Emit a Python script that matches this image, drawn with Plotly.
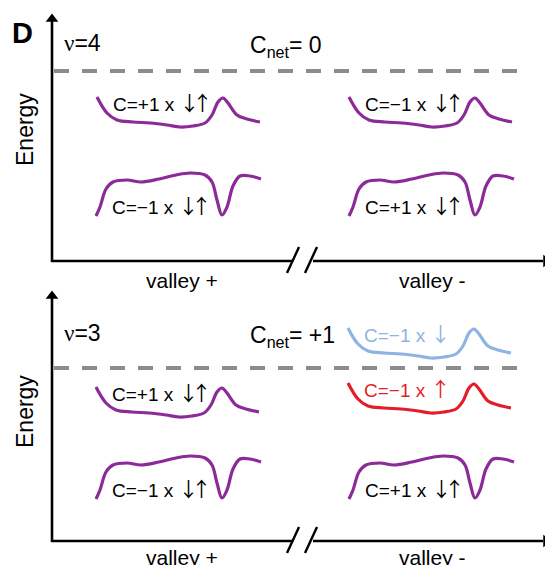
import plotly.graph_objects as go

# ---- schematic band dispersions (k offset, energy offset; screen units, down = +) ----
K_PEAK = [0, 10, 20, 36, 53, 70, 83, 96, 108, 115, 121, 126, 131, 140, 150, 163]
E_PEAK = [0, 16, 23, 25, 26, 28, 30, 29, 26, 18, 5, 1, 6, 18, 22, 25]
K_DIP = [0, 4, 10, 17, 31, 45, 63, 80, 94, 109, 116, 121, 126, 131, 137, 144, 154, 165]
E_DIP = [0, -9, -27, -34, -36, -34, -37, -41, -43, -41, -34, -16, -1, -9, -30, -40, -40, -37]

# ---- bands: kind, label, colour key ----
BAND_KIND = ["peak", "peak", "dip", "dip", "peak", "peak", "peak", "dip", "dip"]
BAND_CHERN = ["C=+1 x ", "C=−1 x ", "C=−1 x ", "C=+1 x ",
              "C=+1 x ", "C=−1 x ", "C=−1 x ", "C=−1 x ", "C=+1 x "]
BAND_SPIN = ["↓↑", "↓↑", "↓↑", "↓↑", "↓↑", "↓", "↑", "↓↑", "↓↑"]
BAND_COLOR = ["purple", "purple", "purple", "purple",
              "purple", "blue", "red", "purple", "purple"]
BAND_K0 = [97, 349, 96, 349, 96, 348, 348, 96, 349]
BAND_E0 = [97, 97, 216, 216, 387, 328, 383, 499, 499]

PANEL_NU = ["=4", "=3"]
PANEL_CNET = ["0", "+1"]
VALLEYS = ["valley +", "valley -"]

COLORS = {"purple": "#8B2A98", "blue": "#8DB4E2", "red": "#E31E2A"}
FONT = "Liberation Sans, Arial, sans-serif"
ARROW_SPAN = ("<span style='font-family:Noto Sans CJK JP;font-size:20px;"
              "letter-spacing:-7px'>{}</span>")

# layout geometry (page pixels; the page body has an 8px margin)
W, H = 553, 565
OFF = 8
AX_X = 52
PANEL_BASE = [261, 541]
PANEL_TOP = [13, 290]
FERMI = [71, 368]
TEXT_Y = [43, 333]
VALLEY_Y = [280, 557]
ENERGY_Y = [130, 412]

fig = go.Figure()
black = "#000000"

for p in range(2):
    base = PANEL_BASE[p]
    # vertical energy axis
    fig.add_trace(go.Scatter(x=[AX_X, AX_X], y=[base + 1, PANEL_TOP[p] + 8], mode="lines",
                             line=dict(color=black, width=2.6), hoverinfo="skip"))
    fig.add_trace(go.Scatter(x=[AX_X], y=[PANEL_TOP[p] + 6], mode="markers",
                             marker=dict(symbol="triangle-up", size=11, color=black),
                             hoverinfo="skip"))
    # horizontal axis with break
    fig.add_trace(go.Scatter(x=[AX_X - 1, 292], y=[base, base], mode="lines",
                             line=dict(color=black, width=2.6), hoverinfo="skip"))
    fig.add_trace(go.Scatter(x=[313, 543], y=[base, base], mode="lines",
                             line=dict(color=black, width=2.6), hoverinfo="skip"))
    fig.add_trace(go.Scatter(x=[546], y=[base], mode="markers",
                             marker=dict(symbol="triangle-right", size=11, color=black),
                             hoverinfo="skip"))
    for x0 in (287, 305):
        fig.add_trace(go.Scatter(x=[x0, x0 + 12], y=[base + 12, base - 14], mode="lines",
                                 line=dict(color=black, width=2.4), hoverinfo="skip"))
    # Fermi level
    fig.add_trace(go.Scatter(x=[AX_X + 2, 525], y=[FERMI[p], FERMI[p]], mode="lines",
                             line=dict(color="#8C8C8C", width=4, dash="15px,13px"),
                             hoverinfo="skip"))
    # texts
    fig.add_annotation(x=62, y=TEXT_Y[p], xanchor="left", yanchor="middle",
                       text="<span style='font-family:Liberation Serif'>ν</span>" + PANEL_NU[p],
                       showarrow=False, font=dict(size=23, color=black, family=FONT))
    fig.add_annotation(x=248, y=TEXT_Y[p] + 3, xanchor="left", yanchor="middle",
                       text="C<sub>net</sub>= " + PANEL_CNET[p],
                       showarrow=False, font=dict(size=23, color=black, family=FONT))
    fig.add_annotation(x=182, y=VALLEY_Y[p], xanchor="center", yanchor="middle",
                       text=VALLEYS[0], showarrow=False,
                       font=dict(size=21, color=black, family=FONT))
    fig.add_annotation(x=432, y=VALLEY_Y[p], xanchor="center", yanchor="middle",
                       text=VALLEYS[1], showarrow=False,
                       font=dict(size=21, color=black, family=FONT))
    fig.add_annotation(x=25, y=ENERGY_Y[p], xanchor="center", yanchor="middle",
                       text="Energy", textangle=-90, showarrow=False,
                       font=dict(size=23, color=black, family=FONT))

for i, kind in enumerate(BAND_KIND):
    ks = K_PEAK if kind == "peak" else K_DIP
    es = E_PEAK if kind == "peak" else E_DIP
    col = COLORS[BAND_COLOR[i]]
    fig.add_trace(go.Scatter(x=[BAND_K0[i] + k for k in ks],
                             y=[BAND_E0[i] + e for e in es],
                             mode="lines", line=dict(color=col, width=3.2, shape="spline"),
                             hoverinfo="skip"))
    dy = 5 if kind == "peak" else -11
    fig.add_annotation(x=BAND_K0[i] + 14, y=BAND_E0[i] + dy, xanchor="left", yanchor="middle",
                       text=BAND_CHERN[i] + ARROW_SPAN.format(BAND_SPIN[i]), showarrow=False,
                       font=dict(size=19, color=black if BAND_COLOR[i] == "purple" else col,
                                 family=FONT))

fig.add_annotation(x=10, y=33, xanchor="left", yanchor="middle", text="<b>D</b>",
                   showarrow=False, font=dict(size=29, color=black, family=FONT))

fig.update_layout(width=W - OFF, height=H - OFF, margin=dict(l=0, r=0, t=0, b=0),
                  paper_bgcolor="white", plot_bgcolor="white", showlegend=False,
                  xaxis=dict(range=[OFF, W], visible=False, fixedrange=True),
                  yaxis=dict(range=[H, OFF], visible=False, fixedrange=True))
fig.write_html("out.html")
